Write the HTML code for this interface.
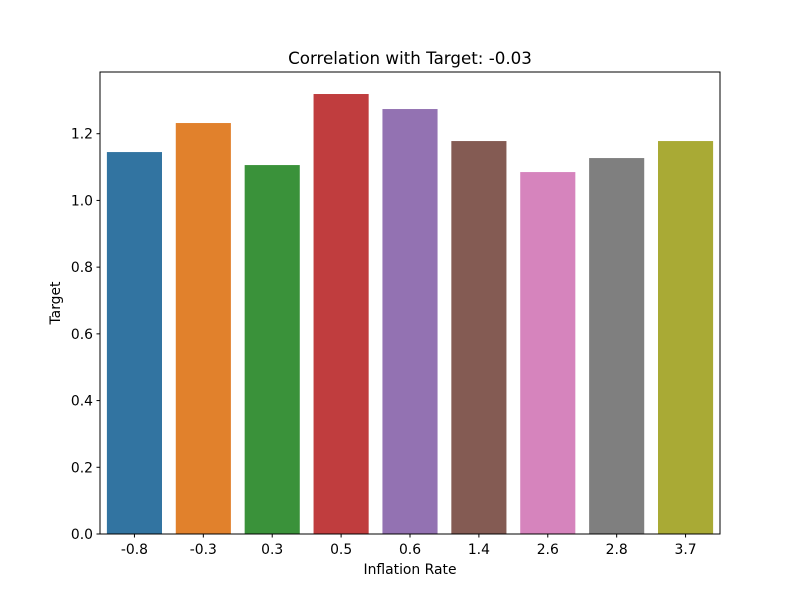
<!DOCTYPE html>
<html><head><meta charset="utf-8"><style>
body{margin:0;background:#fff;}
svg text{font-family:"DejaVu Sans","Liberation Sans",sans-serif;fill:#000;}
</style></head><body>
<svg id="chart" width="800" height="600" viewBox="0 0 800 600" xmlns="http://www.w3.org/2000/svg">
<rect width="800" height="600" fill="#fff"/>
<g id="bars"></g><g id="axes"></g>
</svg>
<script>
const categories=["-0.8","-0.3","0.3","0.5","0.6","1.4","2.6","2.8","3.7"];
const values=[1.145,1.232,1.106,1.319,1.274,1.178,1.085,1.127,1.178];
const yTicks=[0,0.2,0.4,0.6,0.8,1.0,1.2];
const yTickLabels=["0.0","0.2","0.4","0.6","0.8","1.0","1.2"];
const colors=["#3274a1","#e1812c","#3a923a","#c03d3e","#9372b2","#845b53","#d684bd","#7f7f7f","#a9aa35"];
const L=100,R=720,T=72,B=534,yMax=1.385;
const ns="http://www.w3.org/2000/svg";
const y=v=>B-(v/yMax)*(B-T);
const band=(R-L)/categories.length;
const x=i=>L+band*(i+0.5);
const bars=document.getElementById('bars'),axes=document.getElementById('axes');
function mk(tag,attrs,parent,text){const e=document.createElementNS(ns,tag);for(const k in attrs)e.setAttribute(k,attrs[k]);if(text!==undefined)e.textContent=text;parent.appendChild(e);return e;}
values.forEach((v,i)=>{
 const r=mk('rect',{x:x(i)-band*0.4,y:y(v),width:band*0.8,height:B-y(v),fill:colors[i]},bars);
 
 
});
const frame=mk('rect',{x:L,y:T,width:R-L,height:B-T,fill:'none',stroke:'#000','stroke-width':1},axes);


categories.forEach((c,i)=>{
 mk('line',{x1:x(i),x2:x(i),y1:B,y2:B+3.5,stroke:'#000'},axes);
 const t=mk('text',{x:x(i),y:B+20,'text-anchor':'middle','font-size':13.9},axes,c);
 
 
});
yTicks.forEach((v,i)=>{
 mk('line',{x1:L-3.5,x2:L,y1:y(v),y2:y(v),stroke:'#000'},axes);
 const t=mk('text',{x:L-7,y:y(v)+5,'text-anchor':'end','font-size':13.9},axes,yTickLabels[i]);
 
 
});
const xt=mk('text',{x:(L+R)/2,y:574,'text-anchor':'middle','font-size':13.9},axes,'Inflation Rate');


const yt=mk('text',{x:60,y:(T+B)/2,'text-anchor':'middle','font-size':13.9,transform:'rotate(-90 60 '+((T+B)/2)+')'},axes,'Target');


const ti=mk('text',{x:(L+R)/2,y:64,'text-anchor':'middle','font-size':16.7},axes,'Correlation with Target: -0.03');


</script>
</body></html>
